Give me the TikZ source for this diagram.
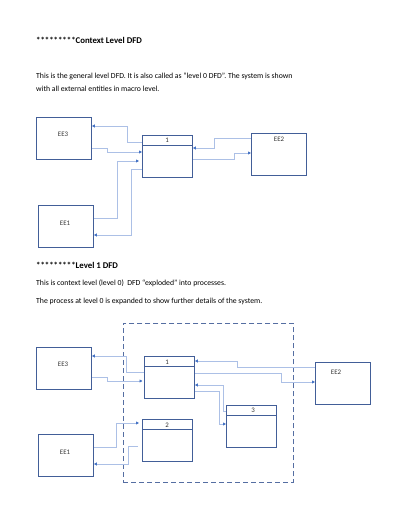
\documentclass[tikz,border=0pt]{standalone}
\usepackage{fontspec}
\setmainfont{Carlito}
\usepackage{xcolor}
\usepackage{tikz}
\usetikzlibrary{positioning,calc,arrows.meta}
\definecolor{boxblue}{RGB}{66,94,152}
\definecolor{linkblue}{RGB}{172,192,230}
\definecolor{tipblue}{RGB}{68,114,196}

\begin{document}
\begin{tikzpicture}[x=1pt,y=-1pt,
    ent/.style={draw=boxblue, line width=0.9pt, minimum width=55pt, minimum height=42pt, inner sep=0pt, anchor=north west},
    proc/.style={draw=boxblue, line width=0.9pt, minimum width=50pt, minimum height=42pt, inner sep=0pt, anchor=north west},
    hdr/.style={draw=boxblue, line width=0.9pt},
    sysbox/.style={draw=boxblue!90, line width=0.8pt, dash pattern=on 5pt off 3pt, minimum width=170pt, minimum height=159pt, inner sep=0pt, anchor=north west},
    lbl/.style={font=\fontsize{6.9}{7.5}\selectfont, text=black!80, inner sep=0pt},
    txt/.style={font=\fontsize{7.75}{9}\selectfont, anchor=base west, inner sep=0pt},
    ttl/.style={font=\fontsize{8.8}{10}\selectfont\bfseries, anchor=base west, inner sep=0pt}]
    \tikzset{flow/.style={draw=linkblue, line width=0.8pt, -{Triangle[length=3pt,width=3pt,color=tipblue]}}}
    \useasboundingbox (0,0) rectangle (416,513);

    % context level
    \node[ttl] (title0) at (36,44) {*********Context Level DFD};
    \node[txt] (para0a) at (36,78.5) {This is the general level DFD. It is also called as “level 0 DFD”. The system is shown};
    \node[txt] (para0b) at (36,92) {with all external entities in macro level.};

    \node[ent] (ee3) at (36,117) {};
    \node[proc] (p1) at (142,135) {};
    \node[ent] (ee2) at (251,133) {};
    \node[ent] (ee1) at (38,205) {};
    \node[lbl] (ee3t) at (63,134) {EE3};
    \node[lbl] (ee2t) at (279,139.5) {EE2};
    \node[lbl] (ee1t) at (65,223) {EE1};
    \node[lbl] (p1t) at (167,140.5) {1};

    \draw[flow] (p1.west |- 0,142) -| (127,126) -- (ee3.east |- 0,126);
    \draw[flow] (ee3.east |- 0,148) -| (107,152) -- (p1.west |- 0,152);
    \draw[flow, shorten >=3pt] (ee1.east |- 0,218) -| (117,161) -- (p1.west |- 0,161);
    \draw[flow] (p1.west |- 0,169) -| (131,235) -- (ee1.east |- 0,235);
    \draw[flow] (ee2.west |- 0,138) -| (214,148) -- (p1.east |- 0,148);
    \draw[flow] (p1.east |- 0,159) -| (234,153) -- (ee2.west |- 0,153);

    % level 1
    \node[ttl] (title1) at (36,268.5) {*********Level 1 DFD};
    \node[txt] (para1a) at (36,285.5) {This is context level (level 0)\ \ DFD “exploded” into processes.};
    \node[txt] (para1b) at (36,303) {The process at level 0 is expanded to show further details of the system.};

    \node[sysbox] (sys) at (123,323) {};
    \node[ent] (ee3b) at (36,347) {};
    \node[proc] (q1) at (144,356) {};
    \node[proc] (q2) at (142,419) {};
    \node[proc] (q3) at (226,405) {};
    \node[ent] (ee2b) at (315,362) {};
    \node[ent] (ee1b) at (38,434) {};
    \node[lbl] (ee3bt) at (63,364) {EE3};
    \node[lbl] (ee2bt) at (336,372) {EE2};
    \node[lbl] (ee1bt) at (65,452) {EE1};
    \node[lbl] (q1t) at (167,362) {1};
    \node[lbl] (q2t) at (167,425) {2};
    \node[lbl] (q3t) at (253,410.5) {3};

    \foreach \p in {p1,q1,q2,q3}
        \draw[hdr] ([yshift=-10pt]\p.north west) -- ([yshift=-10pt]\p.north east);

    \draw[flow] (q1.west |- 0,372) -| (126,356) -- (ee3b.east |- 0,356);
    \draw[flow, shorten >=1.5pt] (ee3b.east |- 0,377) -| (107,381) -- (q1.west |- 0,381);
    \draw[flow] (ee2b.west |- 0,367) -| (237,361) -- (q1.east |- 0,361);
    \draw[flow] (q1.east |- 0,373) -| (281,382) -- (ee2b.west |- 0,382);
    \draw[flow] (q3.west |- 0,411) -| (223,385) -- (q1.east |- 0,385);
    \draw[flow] (q1.east |- 0,391) -| (219,424) -- (q3.west |- 0,424);
    \draw[flow, shorten >=3pt] (ee1b.east |- 0,447) -| (116,423) -- (q2.west |- 0,423);
    \draw[flow, shorten <=4pt] (q2.west |- 0,446) -| (128,464) -- (ee1b.east |- 0,464);
\end{tikzpicture}
\end{document}
